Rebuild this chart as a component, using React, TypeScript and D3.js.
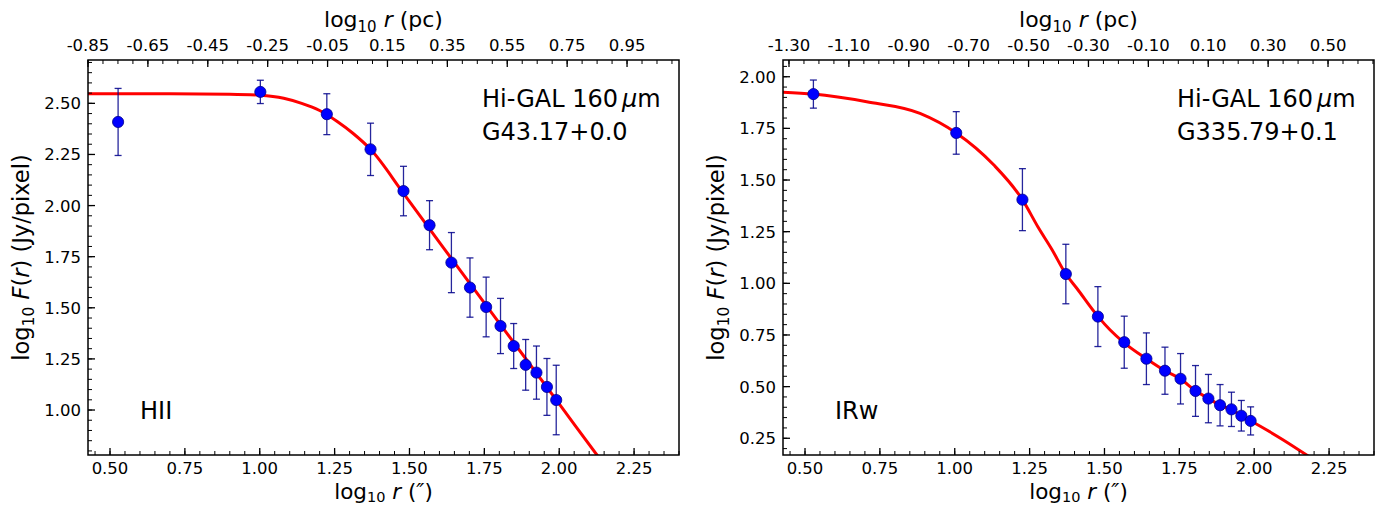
import React from "react";
import * as d3 from "d3";

// ---------- data ----------
const hiiLogR = [0.527, 1.002, 1.224, 1.370, 1.480, 1.567, 1.640, 1.702, 1.756, 1.804, 1.848, 1.888, 1.924, 1.959, 1.990];
const hiiLogF = [2.409, 2.556, 2.447, 2.275, 2.071, 1.904, 1.721, 1.599, 1.504, 1.411, 1.313, 1.221, 1.183, 1.113, 1.049];
const hiiErr = [0.164, 0.057, 0.100, 0.128, 0.121, 0.120, 0.147, 0.145, 0.146, 0.135, 0.110, 0.124, 0.130, 0.139, 0.170];
const hiiFitLogR = [0.4265, 0.70, 0.90, 1.00, 1.08, 1.14, 1.20, 1.26, 1.31, 1.37, 1.48, 1.60, 1.80, 2.00, 2.126, 2.16];
const hiiFitLogF = [2.547, 2.547, 2.545, 2.540, 2.525, 2.500, 2.465, 2.410, 2.355, 2.275, 2.060, 1.820, 1.425, 1.030, 0.780, 0.713];

const irwLogR = [0.528, 1.005, 1.226, 1.371, 1.478, 1.566, 1.640, 1.702, 1.754, 1.804, 1.847, 1.886, 1.924, 1.957, 1.988];
const irwLogF = [1.916, 1.728, 1.405, 1.045, 0.839, 0.715, 0.635, 0.577, 0.538, 0.479, 0.442, 0.410, 0.390, 0.359, 0.334];
const irwErr = [0.068, 0.103, 0.150, 0.144, 0.145, 0.126, 0.125, 0.114, 0.122, 0.123, 0.117, 0.100, 0.083, 0.074, 0.068];
const irwFitLogR = [0.4265, 0.528, 0.706, 0.884, 1.005, 1.129, 1.226, 1.279, 1.324, 1.371, 1.4075, 1.478, 1.519, 1.566, 1.640, 1.702, 1.754, 1.804, 1.847, 1.886, 1.924, 1.957, 1.988, 2.097, 2.175, 2.20];
const irwFitLogF = [1.925, 1.916, 1.879, 1.823, 1.728, 1.575, 1.405, 1.270, 1.165, 1.045, 0.976, 0.840, 0.774, 0.712, 0.635, 0.577, 0.537, 0.480, 0.443, 0.410, 0.388, 0.360, 0.335, 0.242, 0.169, 0.145];

const xDomain = [0.4265, 2.4];
const xTicks = [0.5, 0.75, 1.0, 1.25, 1.5, 1.75, 2.0, 2.25];
const hiiYDomain = [0.78, 2.712];
const hiiYTicks = [1.0, 1.25, 1.5, 1.75, 2.0, 2.25, 2.5];
const irwYDomain = [0.169, 2.081];
const irwYTicks = [0.25, 0.5, 0.75, 1.0, 1.25, 1.5, 1.75, 2.0];
const hiiPcTicks = [-0.85, -0.65, -0.45, -0.25, -0.05, 0.15, 0.35, 0.55, 0.75, 0.95];
const irwPcTicks = [-1.3, -1.1, -0.9, -0.7, -0.5, -0.3, -0.1, 0.1, 0.3, 0.5];

const panels = [
  {
    id: "hii", x0: 88, x1: 679, yDomain: hiiYDomain, yTicks: hiiYTicks,
    pcTicks: hiiPcTicks, pcEdge: -0.85,
    r: hiiLogR, f: hiiLogF, e: hiiErr, fr: hiiFitLogR, ff: hiiFitLogF,
    name: "G43.17+0.0", cls: "HII",
  },
  {
    id: "irw", x0: 783, x1: 1374, yDomain: irwYDomain, yTicks: irwYTicks,
    pcTicks: irwPcTicks, pcEdge: -1.32,
    r: irwLogR, f: irwLogF, e: irwErr, fr: irwFitLogR, ff: irwFitLogF,
    name: "G335.79+0.1", cls: "IRw",
  },
];

const TOP = 60;
const BOTTOM = 455;
const FONT = "DejaVu Sans, sans-serif";

function range(a: number, b: number, step: number) {
  const out: number[] = [];
  const n = Math.round((b - a) / step);
  for (let i = 0; i <= n + 1; i++) out.push(+(a + i * step).toFixed(6));
  return out;
}

function Panel({ p }: { p: any }) {
  const x = d3.scaleLinear().domain(xDomain).range([p.x0, p.x1]);
  const y = d3.scaleLinear().domain(p.yDomain).range([BOTTOM, TOP]);
  const span = xDomain[1] - xDomain[0];
  const xt = d3.scaleLinear().domain([p.pcEdge, p.pcEdge + span]).range([p.x0, p.x1]);
  const inX = (v: number) => v >= xDomain[0] - 1e-6 && v <= xDomain[1] + 1e-6;
  const inXt = (v: number) => v >= p.pcEdge - 1e-6 && v <= p.pcEdge + span + 1e-6;
  const inY = (v: number) => v >= p.yDomain[0] - 1e-6 && v <= p.yDomain[1] + 1e-6;

  const xMinor = range(0.45, 2.4, 0.05).filter(inX);
  const yMinor = range(0, 3, 0.05).filter(inY);
  const tMinor = range(p.pcTicks[0] - 0.05, p.pcTicks[0] + 2.2, 0.05).filter(inXt);

  const line = d3
    .line<number>()
    .x((_, i) => x(p.fr[i]))
    .y((d) => y(d))
    .curve(d3.curveMonotoneX);

  const cx = (p.x0 + p.x1) / 2;
  const cy = (TOP + BOTTOM) / 2;
  const clipId = "clip-" + p.id;
  const MAJ = 7, MIN = 4;
  const annX = p.x1 - 197;

  return (
    <g fontFamily={FONT}>
      <defs>
        <clipPath id={clipId}>
          <rect x={p.x0} y={TOP} width={p.x1 - p.x0} height={BOTTOM - TOP} />
        </clipPath>
      </defs>
      {/* fit curve */}
      <path d={line(p.ff) || ""} fill="none" stroke="#ff0000" strokeWidth={3} clipPath={`url(#${clipId})`} />
      {/* error bars */}
      {p.r.map((rv: number, i: number) => {
        const X = x(rv);
        const y1 = y(p.f[i] - p.e[i]);
        const y2 = y(p.f[i] + p.e[i]);
        return (
          <g key={"e" + i} stroke="#00008b" strokeWidth={1.3} strokeOpacity={0.85}>
            <line x1={X} x2={X} y1={y1} y2={y2} />
            <line x1={X - 3.5} x2={X + 3.5} y1={y1} y2={y1} />
            <line x1={X - 3.5} x2={X + 3.5} y1={y2} y2={y2} />
          </g>
        );
      })}
      {/* points */}
      {p.r.map((rv: number, i: number) => (
        <circle key={"p" + i} cx={x(rv)} cy={y(p.f[i])} r={5.6} fill="#0000ff" stroke="#00008b" strokeWidth={0.8} />
      ))}

      {/* bottom ticks */}
      {xMinor.map((v) => (
        <line key={"bm" + v} x1={x(v)} x2={x(v)} y1={BOTTOM} y2={BOTTOM - MIN} stroke="#000" strokeWidth={1} />
      ))}
      {xTicks.map((v) => (
        <g key={"bt" + v}>
          <line x1={x(v)} x2={x(v)} y1={BOTTOM} y2={BOTTOM - MAJ} stroke="#000" strokeWidth={1.3} />
          <text x={x(v)} y={474} fontSize={16.5} textAnchor="middle">{v.toFixed(2)}</text>
        </g>
      ))}
      {/* top ticks */}
      {tMinor.map((v) => (
        <line key={"tm" + v} x1={xt(v)} x2={xt(v)} y1={TOP} y2={TOP + MIN} stroke="#000" strokeWidth={1} />
      ))}
      {p.pcTicks.map((v: number) => (
        <g key={"tt" + v}>
          <line x1={xt(v)} x2={xt(v)} y1={TOP} y2={TOP + MAJ} stroke="#000" strokeWidth={1.3} />
          <text x={xt(v)} y={51} fontSize={16.5} textAnchor="middle">{(v < 0 ? "-" : "") + Math.abs(v).toFixed(2)}</text>
        </g>
      ))}
      {/* left ticks */}
      {yMinor.map((v) => (
        <line key={"lm" + v} x1={p.x0} x2={p.x0 + MIN} y1={y(v)} y2={y(v)} stroke="#000" strokeWidth={1} />
      ))}
      {p.yTicks.map((v: number) => (
        <g key={"lt" + v}>
          <line x1={p.x0} x2={p.x0 + MAJ} y1={y(v)} y2={y(v)} stroke="#000" strokeWidth={1.3} />
          <text x={p.x0 - 7} y={y(v)} dy="0.36em" fontSize={16.5} textAnchor="end">{v.toFixed(2)}</text>
        </g>
      ))}
      {/* frame */}
      <rect x={p.x0} y={TOP} width={p.x1 - p.x0} height={BOTTOM - TOP} fill="none" stroke="#000" strokeWidth={1.5} />

      {/* axis titles */}
      <text x={cx} y={27} fontSize={22} textAnchor="middle">
        log<tspan fontSize={15} dy={5}>10</tspan><tspan dy={-5}> </tspan><tspan fontStyle="italic">r</tspan> (pc)
      </text>
      <text x={cx} y={499} fontSize={21.5} textAnchor="middle">
        log<tspan fontSize={14.5} dy={3}>10</tspan><tspan dy={-3}> </tspan><tspan fontStyle="italic">r</tspan> (<tspan fontStyle="italic">″</tspan>)
      </text>
      <text transform={`translate(${p.x0 - 59},${cy}) rotate(-90)`} fontSize={22.5} textAnchor="middle">
        log<tspan fontSize={15.5} dy={5}>10</tspan><tspan dy={-5}> </tspan><tspan fontStyle="italic">F</tspan>(<tspan fontStyle="italic">r</tspan>) (Jy/pixel)
      </text>

      {/* annotations */}
      <text x={annX} y={107} fontSize={24}>
        Hi-GAL 160<tspan dx={4} fontStyle="italic">μ</tspan>m
      </text>
      <text x={annX} y={140} fontSize={24}>{p.name}</text>
      <text x={p.x0 + 52} y={419} fontSize={24}>{p.cls}</text>
    </g>
  );
}

export default function App() {
  return (
    <svg
      width={1381}
      height={506}
      viewBox="0 0 1381 506"
      style={{ position: "absolute", left: 0, top: 0, background: "#fff" }}
    >
      <rect width={1381} height={506} fill="#fff" />
      {panels.map((p) => (
        <Panel key={p.id} p={p} />
      ))}
    </svg>
  );
}
